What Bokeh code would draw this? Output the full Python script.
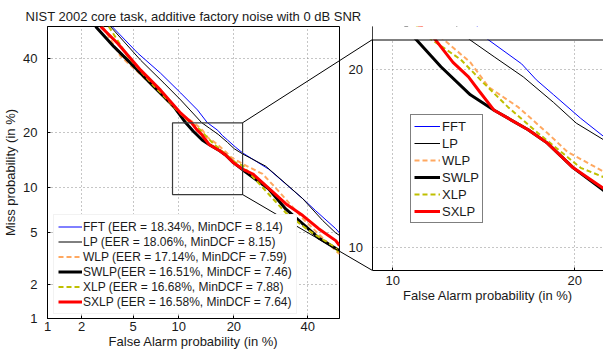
from statistics import NormalDist

from bokeh.plotting import figure
from bokeh.layouts import row
from bokeh.models import (FixedTicker, Legend, LegendItem, LinearAxis, Range1d, BoxAnnotation, Span)
from bokeh.embed import file_html
from bokeh.resources import INLINE

# ------------------------------------------------------------------ data
TITLE = "NIST 2002 core task, additive factory noise with 0 dB SNR"
XLABEL = "False Alarm probability (in %)"
YLABEL = "Miss probability (in %)"
MAIN_TICKS = [1, 2, 5, 10, 20, 40]
INSET_TICKS = [10, 20]
AXIS_LIMITS = [1, 50]           # % on both axes of the main plot
ZOOM_FA = [9.17, 22.0]          # % zoomed window (false alarm)
ZOOM_MISS = [9.03, 22.15]       # % zoomed window (miss)

systems = ["FFT", "LP", "WLP", "SWLP", "XLP", "SXLP"]
eer = [18.34, 18.06, 17.14, 16.51, 16.68, 16.58]
min_dcf = [8.14, 8.15, 7.59, 7.46, 7.88, 7.64]

fft_fa = [3.5, 5.4, 7.7, 10.3, 12.9, 14.6, 16.6, 17.5, 18.6, 20.4, 22.0, 28.6, 38.5, 42.5, 48.8, 50.0]
fft_miss = [50.0, 41.6, 35.5, 29.8, 25.3, 22.2, 20.4, 19.3, 18.3, 16.8, 15.7, 12.8, 8.5, 7.1, 5.36, 5.0]

lp_fa = [3.4, 5.66, 8.1, 10.3, 13.6, 15.0, 16.7, 18.6, 20.1, 22.0, 27.8, 32.6, 38.5, 44.7, 48.8, 50.0]
lp_miss = [50.0, 39.4, 32.6, 27.9, 22.2, 20.9, 19.5, 17.8, 16.5, 15.5, 13.3, 10.9, 8.5, 6.1, 5.0, 4.8]

wlp_fa = [2.96, 4.06, 7.2, 10.0, 12.3, 13.7, 14.7, 16.4, 18.2, 19.5, 22.0, 27.0, 30.6, 38.5, 48.8, 50.0]
wlp_miss = [50.0, 40.6, 31.0, 24.5, 22.2, 20.5, 18.8, 17.5, 15.9, 14.8, 13.7, 12.0, 9.9, 6.3, 3.7, 3.5]

swlp_fa = [2.6, 3.6, 5.05, 6.9, 9.3, 11.0, 12.2, 13.7, 15.0, 17.0, 18.2, 19.9, 22.0, 28.6, 33.4, 38.5, 43.4, 50.0]
swlp_miss = [50.0, 43.7, 37.6, 31.7, 26.3, 22.2, 20.2, 18.3, 17.3, 16.1, 15.3, 13.9, 12.7, 9.8, 7.3, 5.8, 4.6, 3.7]

xlp_fa = [3.3, 4.57, 6.9, 8.55, 9.9, 11.7, 13.2, 14.4, 15.8, 17.6, 20.4, 22.0, 28.6, 33.4, 40.3, 48.8, 50.0]
xlp_miss = [50.0, 40.6, 32.0, 27.9, 25.0, 22.2, 20.7, 19.1, 17.5, 15.9, 13.9, 13.4, 9.1, 6.9, 5.2, 3.9, 3.5]

sxlp_fa = [2.85, 3.85, 5.66, 7.7, 10.3, 11.9, 12.8, 13.6, 14.2, 15.0, 17.0, 18.2, 19.9, 22.0, 24.5, 28.6, 33.4, 38.5, 43.4, 48.8, 50.0]
sxlp_miss = [50.0, 44.7, 36.4, 30.6, 24.5, 22.2, 20.5, 19.5, 18.5, 17.3, 16.1, 15.3, 13.9, 12.8, 12.0, 9.9, 7.9, 6.6, 5.36, 4.4, 4.04]

series_fa = [fft_fa, lp_fa, wlp_fa, swlp_fa, xlp_fa, sxlp_fa]
series_miss = [fft_miss, lp_miss, wlp_miss, swlp_miss, xlp_miss, sxlp_miss]

# ------------------------------------------------------------------ styles
STYLES = [
    dict(line_color="#0000ff", line_width=1),
    dict(line_color="#000000", line_width=1),
    dict(line_color="#ffa860", line_width=2, line_dash="5 3"),
    dict(line_color="#000000", line_width=3),
    dict(line_color="#bfbf00", line_width=2, line_dash="5 3"),
    dict(line_color="#ff0000", line_width=3),
]
FONT = "Liberation Sans"
TXT = "#1a1a1a"
W, H = 603, 354
MAIN_FRAME = dict(left=47, top=26, size=292)
INSET_FRAME = dict(left=372, top=39, size=231)

nd = NormalDist()


def probit(pct):
    return nd.inv_cdf(pct / 100.0)


def style_axis(ax, ticks):
    ax.ticker = FixedTicker(ticks=[probit(t) for t in ticks])
    ax.major_label_overrides = {probit(t): str(t) for t in ticks}
    ax.minor_tick_line_color = None
    ax.major_tick_in = 3
    ax.major_tick_out = 0
    ax.major_tick_line_color = "black"
    ax.axis_line_color = "black"
    ax.major_label_text_font = FONT
    ax.major_label_text_font_size = "13px"
    ax.major_label_text_color = TXT
    ax.axis_label_text_font = FONT
    ax.axis_label_text_font_size = "13px"
    ax.axis_label_text_font_style = "normal"
    ax.axis_label_text_color = TXT


def style_grid(g, ticks):
    g.ticker = FixedTicker(ticks=[probit(t) for t in ticks])
    g.grid_line_color = "#8c8c8c"
    g.grid_line_dash = "1 3"
    g.grid_line_width = 1


m = MAIN_FRAME
i = INSET_FRAME
zx0, zx1 = probit(ZOOM_FA[0]), probit(ZOOM_FA[1])
zy0, zy1 = probit(ZOOM_MISS[0]), probit(ZOOM_MISS[1])
upp = (zy1 - zy0) / i["size"]           # inset data units per pixel (vertical)

# ------------------------------------------------------------------ main plot
main = figure(frame_width=m["size"], frame_height=m["size"],
              output_backend="svg", toolbar_location=None,
              x_range=Range1d(probit(AXIS_LIMITS[0]), probit(AXIS_LIMITS[1])),
              y_range=Range1d(probit(AXIS_LIMITS[0]), probit(AXIS_LIMITS[1])),
              min_border_left=m["left"], min_border_top=m["top"],
              min_border_right=i["left"] - m["left"] - m["size"],
              min_border_bottom=H - m["top"] - m["size"],
              title=TITLE)
main.title.align = "center"
main.title.text_font = FONT
main.title.text_font_size = "13px"
main.title.text_font_style = "normal"
main.title.text_color = TXT
main.title.standoff = 6
main.outline_line_color = "black"
main.background_fill_color = "white"
main.border_fill_color = "white"
style_axis(main.xaxis[0], MAIN_TICKS)
style_axis(main.yaxis[0], MAIN_TICKS)
main.xaxis[0].axis_label = XLABEL
main.yaxis[0].axis_label = YLABEL
main.xaxis[0].major_label_standoff = 3
main.xaxis[0].axis_label_standoff = 0
main.yaxis[0].major_label_standoff = 10
main.yaxis[0].axis_label_standoff = 2
style_grid(main.xgrid[0], MAIN_TICKS)
style_grid(main.ygrid[0], MAIN_TICKS)

# the inset's miss-probability axis sits in the gap right of the main frame:
# an extra range with the inset's scale, aligned with the inset frame
main.extra_y_ranges = {"inset_y": Range1d(zy0 - (m["top"] + m["size"] - i["top"] - i["size"]) * upp,
                                          zy1 + (i["top"] - m["top"]) * upp)}
inset_yaxis = LinearAxis(y_range_name="inset_y")
style_axis(inset_yaxis, INSET_TICKS)
inset_yaxis.major_tick_in = 0
inset_yaxis.major_label_standoff = 9
inset_yaxis.axis_line_color = None
main.add_layout(inset_yaxis, "right")

main_items = []
for name, e, d, fa, ms, st in zip(systems, eer, min_dcf, series_fa, series_miss, STYLES):
    r = main.line([probit(v) for v in fa], [probit(v) for v in ms], **st)
    sep = "" if name == "SWLP" else " "
    main_items.append(LegendItem(label=f"{name}{sep}(EER = {e:.2f}%, MinDCF = {d:.2f})", renderers=[r]))

# zoom rectangle
main.quad(left=zx0, right=zx1, bottom=zy0, top=zy1, fill_color=None,
          line_color="#3a3a3a", line_width=1.2)

# connectors from the zoom rectangle to the inset frame corners
xr0, xr1 = main.x_range.start, main.x_range.end
yr0, yr1 = main.y_range.start, main.y_range.end


def px_to_main(px, py):
    x = xr0 + (px - m["left"]) / m["size"] * (xr1 - xr0)
    y = yr0 + (m["top"] + m["size"] - py) / m["size"] * (yr1 - yr0)
    return x, y


itl = px_to_main(i["left"], i["top"])
ibl = px_to_main(i["left"], i["top"] + i["size"])
main.line([zx1, itl[0]], [zy1, itl[1]], line_color="black", line_width=1, level="overlay")
main.line([zx1, ibl[0]], [zy0, ibl[1]], line_color="black", line_width=1, level="overlay")

main_legend = Legend(items=main_items, location=(6, 4), orientation="vertical",
                     label_text_font=FONT, label_text_font_size="12px", label_text_color=TXT,
                     glyph_width=24, glyph_height=15, label_height=15, label_standoff=1,
                     spacing=0, padding=4, margin=0,
                     border_line_color="#e6e6e6", background_fill_alpha=1.0)
main.add_layout(main_legend, "center")

# ------------------------------------------------------------------ inset plot
# its canvas frame starts at the main frame's top (the row aligns them); the
# strip above the zoom window is masked so the visible box starts lower.
extra_top = i["top"] - m["top"]
inset = figure(frame_width=i["size"], frame_height=i["size"] + extra_top,
               output_backend="svg", toolbar_location=None,
               x_range=Range1d(zx0, zx1), y_range=Range1d(zy0, zy1 + extra_top * upp),
               y_axis_location=None,
               min_border_left=0, min_border_top=m["top"],
               min_border_right=0,
               min_border_bottom=H - i["top"] - i["size"])
inset.border_fill_color = "white"
inset.outline_line_color = None
inset.background_fill_color = "white"
style_axis(inset.xaxis[0], INSET_TICKS)
inset.xaxis[0].axis_label = XLABEL
inset.xaxis[0].major_label_standoff = 5
inset.xaxis[0].axis_label_standoff = 0
style_grid(inset.xgrid[0], INSET_TICKS)
style_grid(inset.ygrid[0], INSET_TICKS)
left_edge = LinearAxis(ticker=FixedTicker(ticks=[]), axis_line_color="black",
                       major_tick_line_color=None, minor_tick_line_color=None,
                       major_label_text_font_size="0px")
inset.add_layout(left_edge, "left")

inset_items = []
for name, fa, ms, st in zip(systems, series_fa, series_miss, STYLES):
    r = inset.line([probit(v) for v in fa], [probit(v) for v in ms], **st)
    inset_items.append(LegendItem(label=name, renderers=[r]))

inset.add_layout(BoxAnnotation(bottom=zy1, fill_color="white", fill_alpha=1.0,
                               line_color=None, level="overlay"))
inset.add_layout(Span(location=zy1 - 0.5 * upp, dimension="width", line_color="black",
                      line_width=1, level="overlay"))

inset_legend = Legend(items=inset_items, location=(38, 47), orientation="vertical",
                      label_text_font=FONT, label_text_font_size="13px", label_text_color=TXT,
                      glyph_width=26, glyph_height=16, label_height=16, label_standoff=2,
                      spacing=1, padding=3, margin=0,
                      border_line_color="black", border_line_width=1, background_fill_alpha=1.0)
inset.add_layout(inset_legend, "center")

layout = row(main, inset, spacing=0)

open("out.html", "w").write(file_html(layout, INLINE))
